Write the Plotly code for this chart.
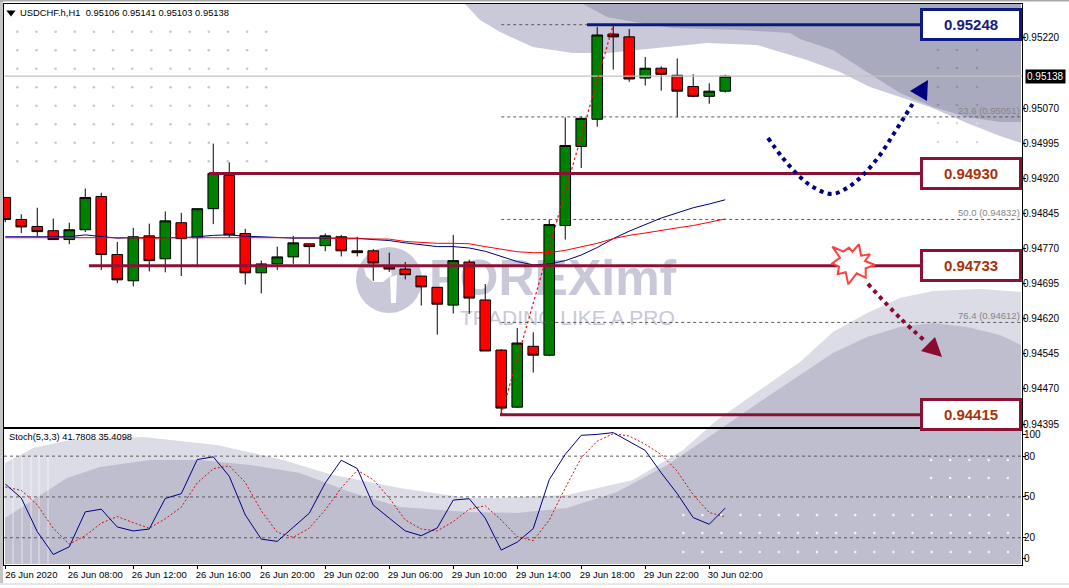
import plotly.graph_objects as go

W, H = 1069, 588
# ---------- data ----------
opens = [.94879,.94832,.94817,.94808,.94789,.94810,.94881,.94757,.94701,.94797,.94748,.94825,.94793,.94855,.94926,.94802,.94718,.94737,.94752,.94780,.94776,.94795,.94765,.94765,.94733,.94726,.94711,.94687,.94649,.94741,.94660,.94553,.94431,.94561,.94542,.94819,.94988,.95046,.95228,.95222,.95134,.95155,.95140,.95116,.95095,.95106]
highs = [.94880,.94843,.94857,.94834,.94825,.94898,.94889,.94784,.94814,.94823,.94849,.94846,.94855,.94994,.94954,.94812,.94744,.94774,.94797,.94780,.94802,.94799,.94795,.94769,.94761,.94741,.94711,.94687,.94799,.94746,.94694,.94555,.94600,.94591,.94832,.95050,.95052,.95243,.95248,.95239,.95179,.95159,.95176,.95142,.95123,.95141]
lows = [.94826,.94803,.94796,.94789,.94779,.94805,.94724,.94696,.94689,.94721,.94719,.94711,.94730,.94822,.94793,.94693,.94674,.94724,.94737,.94737,.94764,.94753,.94753,.94701,.94720,.94704,.94648,.94586,.94631,.94630,.94551,.94416,.94429,.94505,.94540,.94789,.94942,.95030,.95152,.95126,.95118,.95107,.95050,.95093,.95079,.95103]
closes = [.94832,.94816,.94806,.94789,.94810,.94879,.94757,.94703,.94795,.94744,.94829,.94791,.94855,.94930,.94799,.94718,.94737,.94752,.94782,.94774,.94797,.94765,.94761,.94739,.94726,.94714,.94688,.94651,.94744,.94664,.94551,.94429,.94568,.94542,.94821,.94990,.95048,.95226,.95222,.95132,.95155,.95142,.95106,.95095,.95106,.95138]

ma_fast = [.94795,.94795,.94795,.94795,.94795,.94799,.94796,.94792,.94793,.94793,.94793,.94793,.94795,.94798,.94799,.94796,.94795,.94793,.94792,.94792,.94792,.94792,.94792,.94789,.94787,.94782,.94778,.94774,.94774,.94771,.94764,.94753,.94742,.94735,.94737,.94744,.94756,.94772,.94791,.94807,.94821,.94835,.94846,.94857,.94865,.94874]
ma_slow = [.94793,.94793,.94793,.94792,.94792,.94793,.94793,.94793,.94793,.94791,.94793,.94793,.94793,.94793,.94794,.94793,.94793,.94793,.94793,.94793,.94793,.94791,.94791,.94791,.94790,.94785,.94783,.94781,.94781,.94780,.94774,.94768,.94763,.94761,.94761,.94766,.94773,.94781,.94791,.94798,.94803,.94809,.94814,.94819,.94826,.94833]

stoch_main = [59.5,49.2,24.5,7.7,13.3,39,41,27.9,25,26.4,48.9,52.4,77.5,79.5,65.2,36.8,19,17.3,27.7,38,60.3,77,70.9,44,34.4,25,21.5,27.2,47.7,48.7,34.4,10.9,16.8,26.7,62.7,81.3,95.3,96,97.3,90.9,84.2,67.7,52.4,34.8,29.9,41.78]
stoch_signal = [57.3,54.8,44.2,26.9,15.3,21.5,30.7,35.6,31.1,27,33.9,42.5,60.3,70.7,72.9,60.7,39.8,24,20.3,27,40.5,56.6,69.6,62.7,49.2,33.1,26.4,25,31.9,41,43.5,33,20.8,17.8,33,56.6,78.8,91,96.5,94.8,88.7,81.2,68.9,51.6,38.5,35.41]
stoch_levels = [20, 50, 80]

price_ticks = [.95220,.95070,.94995,.94920,.94845,.94770,.94695,.94620,.94545,.94470,.94395]
time_tick_idx = [0,4,8,12,16,20,24,28,32,36,40,44]
time_tick_txt = ["26 Jun 2020","26 Jun 08:00","26 Jun 12:00","26 Jun 16:00","26 Jun 20:00","29 Jun 02:00","29 Jun 06:00","29 Jun 10:00","29 Jun 14:00","29 Jun 18:00","29 Jun 22:00","30 Jun 02:00"]

fib_prices = [.95248,.95051,.94832,.94612]
fib_labels = ["", "23.6 (0.95051)", "50.0 (0.94832)", "76.4 (0.94612)"]
levels_red = [(.94930,12.73),(.94733,5.23),(.94415,30.92)]
level_blue = (.95248,36.36)
box_labels = [("0.95248",.95248,"#0b1a80","#1a1a80"),("0.94930",.94930,"#8b1235","#a8320a"),
              ("0.94733",.94733,"#8b1235","#a8320a"),("0.94415",.94415,"#8b1235","#a8320a")]
last_price = .95138
swing_low, swing_high = .94415, .95248
swing_low_idx, swing_high_idx = 31, 38

# ---------- decoration outlines (window pixels) ----------
top_light = [(465,4),(480,20),(500,32),(533,47),(573,53),(607,53),(657,48),(707,43),(757,45),(807,60),(840,72),(870,87),(900,97),(930,107),(967,123),(1000,136),(1021,143),(1021,4)]
top_dark = [(583,4),(607,17),(640,23),(673,28),(740,30),(790,33),(800,39),(833,50),(867,72),(900,93),(933,107),(967,117),(1000,122),(1021,122),(1021,4)]
bot_light = [(5,463),(33,448),(70,440),(143,437),(217,445),(283,460),(333,475),(400,488),(467,498),(500,498),(567,495),(633,480),(683,450),(717,420),(767,385),(800,362),(833,332),(867,313),(900,298),(933,291),(980,289),(1021,292),(1021,564),(5,564)]
bot_dark = [(5,518),(33,500),(67,478),(100,467),(150,460),(200,460),(250,465),(300,473),(350,492),(400,507),(467,512),(517,513),(567,508),(617,492),(667,465),(700,443),(733,420),(767,397),(800,375),(833,353),(867,337),(900,327),(933,323),(967,327),(1000,335),(1021,345),(1021,564),(5,564)]
star = [(832.3,246.7),(843.3,251.7),(849,247.7),(852.3,251.7),(859,244.3),(861,255.7),(870,254.3),(865,261),(875,265),(865.7,268.3),(865.7,277.7),(856.7,273.3),(848.3,284.3),(845.7,272.3),(837.7,274.3),(839,266.7),(832.3,263.3),(840,257.7),(832.3,246.7)]
blue_curve = [(768,138),(782,157),(798,175),(813,187),(832,194),(850,186),(865,173),(880,155),(893,135),(905,116),(915,100)]
blue_head = [(928,80),(910,91),(927,101)]
red_curve = [(868,284),(900,318),(925,341)]
red_head = [(935,337),(921,351),(942,357)]
logo_cut_a = [(364,268),(390,267),(392,275),(383,282),(373,282),(366,276)]
logo_cut_b = [(390,277),(397,275),(396,303),(391,303)]

fig = go.Figure()

def poly(pts, color, axes="", line=None):
    fig.add_trace(go.Scatter(x=[p[0] for p in pts], y=[p[1] for p in pts], mode="lines", fill="toself",
                             fillcolor=color, line=line or dict(width=0), hoverinfo="skip", showlegend=False,
                             xaxis="x"+axes, yaxis="y"+axes))

# base layer, under everything
poly(top_light, "#c9c9d9")
poly(top_dark, "#aaaabf")
poly(bot_light, "#dcdce6")
poly(bot_dark, "#bebecf")

for sx in [13, 22, 31, 39, 48]:
    fig.add_trace(go.Scatter(x=[sx, sx], y=[455, 564], mode="lines", line=dict(color="rgba(255,255,255,0.4)", width=1.5),
                             hoverinfo="skip", showlegend=False))

def dots(xs, ys, color):
    fig.add_trace(go.Scatter(x=[x for y in ys for x in xs], y=[y for y in ys for x in xs], mode="markers",
                             marker=dict(size=2.6, color=color), hoverinfo="skip", showlegend=False))
dots([17.3 + 19.15 * k for k in range(14)], [31.7 + 18.5 * k for k in range(8)], "#c6c6d6")
dots([938, 957, 977], [50, 68, 87, 105], "#8f8fa6")
dots([938, 957, 977], [123, 142], "#d8d8d8")
dots([683.3 + 19.1 * k for k in range(18)], [515, 533, 552], "#f4f4f8")
dots([931 + 19.2 * k for k in range(5)], [460, 478, 497], "#f4f4f8")

# watermark
fig.add_trace(go.Scatter(x=[389], y=[280], mode="markers", marker=dict(size=66, color="#c8c8d8"), hoverinfo="skip", showlegend=False))
poly(logo_cut_a, "#ffffff")
poly(logo_cut_b, "#ffffff")
fig.add_trace(go.Scatter(x=[429, 460], y=[283, 320], mode="text", text=["FOREXimf", "TRADING LIKE A PRO"],
                         textposition="middle right", hoverinfo="skip", showlegend=False,
                         textfont=dict(family=["Liberation Sans", "Liberation Sans"], size=[50, 21],
                                       weight=["bold", "normal"], color="#c8c8d8")))

# main panel
idx = list(range(len(opens)))
fig.add_trace(go.Candlestick(x=idx, open=opens, high=highs, low=lows, close=closes, xaxis="x2", yaxis="y2",
                             whiskerwidth=0, showlegend=False,
                             increasing=dict(fillcolor="#008000", line=dict(color="#000000", width=1)),
                             decreasing=dict(fillcolor="#ff0000", line=dict(color="#000000", width=1))))
XMAX = 63.55
def main_line(xs, ys, color, width, dash="solid"):
    fig.add_trace(go.Scatter(x=xs, y=ys, mode="lines", line=dict(color=color, width=width, dash=dash),
                             hoverinfo="skip", showlegend=False, xaxis="x2", yaxis="y2"))
main_line([-0.08, XMAX], [last_price, last_price], "#c2c2c2", 1.2)
for p in fib_prices:
    main_line([swing_low_idx, XMAX], [p, p], "#5a5a5a", 1, "3px,3px")
main_line(idx, ma_fast, "#000080", 1)
main_line(idx, ma_slow, "#ff0000", 1)
main_line([swing_low_idx, swing_high_idx], [swing_low, swing_high], "#ff0000", 1.2, "2.5px,2.5px")
for p, x0 in levels_red:
    main_line([x0, 57.2], [p, p], "#8b1235", 3)
main_line([level_blue[1], 57.2], [level_blue[0], level_blue[0]], "#0b1a80", 3)

# stochastic panel
for lv in stoch_levels:
    fig.add_trace(go.Scatter(x=[-0.08, XMAX], y=[lv, lv], mode="lines", line=dict(color="#5a5a5a", width=1, dash="3px,3px"),
                             hoverinfo="skip", showlegend=False, xaxis="x3", yaxis="y3"))
fig.add_trace(go.Scatter(x=idx, y=stoch_signal, mode="lines", line=dict(color="#d01010", width=1, dash="2px,2px"),
                         hoverinfo="skip", showlegend=False, xaxis="x3", yaxis="y3"))
fig.add_trace(go.Scatter(x=idx, y=stoch_main, mode="lines", line=dict(color="#000080", width=1),
                         hoverinfo="skip", showlegend=False, xaxis="x3", yaxis="y3"))

# top overlay layer: arrows and burst
def curve(pts, color):
    fig.add_trace(go.Scatter(x=[p[0] for p in pts], y=[p[1] for p in pts], mode="lines",
                             line=dict(color=color, width=4, dash="4px,4.3px", shape="spline"),
                             hoverinfo="skip", showlegend=False, xaxis="x4", yaxis="y4"))
curve(blue_curve, "#000080")
poly(blue_head, "#000080", "4")
curve(red_curve, "#8b0a2f")
poly(red_head, "#8b0a2f", "4")
poly(star, "#ffffff", "4", dict(color="#ff4040", width=2))
fig.add_trace(go.Scatter(x=[11], y=[12.5], mode="markers", marker=dict(symbol="triangle-down", size=8, color="#000000"),
                         hoverinfo="skip", showlegend=False, xaxis="x4", yaxis="y4"))

# axes
YK = 1.005  # vertical calibration between layout pixels and the photographed page
px = lambda v: v / W
py = lambda v: 1 - v * YK / H
FONT = "Liberation Sans"
tf = dict(family=FONT, size=10, color="#000000")
tfx = dict(family=FONT, size=9.5, color="#000000")
hidden = dict(visible=False, domain=[0, 1], range=[0, W], fixedrange=True)
hiddeny = dict(visible=False, domain=[0, 1], range=[H / YK, 0], fixedrange=True)
PX_PER_PRICE = 46820.0
PMIN = .95248 - (427 - 24.7) / PX_PER_PRICE
PMAX = .95248 + (24.7 - 4) / PX_PER_PRICE
dom_x = [px(4), px(1022)]
fig.update_layout(
    width=W, height=H, margin=dict(l=0, r=0, t=0, b=0), paper_bgcolor="#ffffff", plot_bgcolor="rgba(0,0,0,0)",
    showlegend=False, boxgap=0.3, boxgroupgap=0.05, hovermode=False,
    xaxis=hidden, yaxis=hiddeny,
    xaxis4=dict(hidden), yaxis4=dict(hiddeny),
    xaxis2=dict(domain=dom_x, anchor="y2", range=[-0.08, XMAX], showticklabels=False, ticks="", showgrid=False,
                zeroline=False, showline=True, mirror=True, linecolor="#000000", linewidth=1,
                rangeslider=dict(visible=False), fixedrange=True),
    yaxis2=dict(domain=[py(427), py(4)], anchor="x2", side="right", range=[PMIN, PMAX], tickvals=price_ticks,
                tickformat=".5f", ticks="outside", ticklen=3, tickcolor="#000000", tickfont=tf, ticklabelstandoff=-5, showgrid=False,
                zeroline=False, showline=True, mirror=True, linecolor="#000000", linewidth=1, fixedrange=True),
    xaxis3=dict(domain=dom_x, anchor="y3", range=[-0.08, XMAX], tickvals=time_tick_idx, ticktext=time_tick_txt,
                ticks="outside", ticklen=3, tickcolor="#000000", tickangle=0, tickfont=tfx, ticklabelshift=26, ticklabelstandoff=-2, showgrid=False,
                zeroline=False, showline=True, mirror=True, linecolor="#000000", linewidth=1, fixedrange=True),
    yaxis3=dict(domain=[py(565), py(429)], anchor="x3", side="right", range=[0, 100], tickvals=[96, 80, 50, 20, 4.6],
                ticktext=["100", "80", "50", "20", "0"], ticks="outside", ticklen=3, tickcolor="#000000", tickfont=tf, ticklabelstandoff=-4,
                showgrid=False, zeroline=False, showline=True, mirror=True, linecolor="#000000", linewidth=1, fixedrange=True),
)

ann = []
def paper_text(x, y, text, size=10, color="#000000", anchor="left"):
    ann.append(dict(x=px(x), y=py(y), xref="paper", yref="paper", text=text, showarrow=False, xanchor=anchor, yanchor="middle",
                    font=dict(family=FONT, size=size, color=color), align="left"))
paper_text(18, 12.5, "USDCHF.h,H1  0.95106 0.95141 0.95103 0.95138", 9.4)
paper_text(7, 437, "Stoch(5,3,3) 41.7808 35.4098", 9.3)
for p, t in zip(fib_prices, fib_labels):
    if t:
        ann.append(dict(x=px(1022), xref="paper", y=p, yref="y2", yshift=6.5, text=t, showarrow=False, xanchor="right", yanchor="middle",
                        font=dict(family=FONT, size=9.5, color="#858585")))
for t, p, edge_c, col in box_labels:
    ann.append(dict(x=px(971), xref="paper", y=p, yref="y2", text="<b>%s</b>" % t, showarrow=False, xanchor="center", yanchor="middle",
                    width=96, height=27, bgcolor="#ffffff", bordercolor=edge_c, borderwidth=3, borderpad=0,
                    font=dict(family=FONT, size=15, color=col)))
ann.append(dict(x=px(1024.5), xref="paper", y=last_price, yref="y2", text="0.95138", showarrow=False, xanchor="left", yanchor="middle",
                bgcolor="#000000", borderpad=1, font=dict(family=FONT, size=10, color="#ffffff")))
fig.update_layout(annotations=ann)

# window edge
def edge(x0, y0, x1, y1, c):
    return dict(type="rect", xref="paper", yref="paper", x0=px(x0), x1=px(x1), y0=py(y0), y1=max(py(y1), 0), fillcolor=c, line=dict(width=0), layer="above")
fig.update_layout(shapes=[edge(0, 0, 3, H, "#c4c4c4"), edge(0, 0, W, 1.6, "#a8a8a8"), edge(0, 583, W, H, "#e8e8e8")])

fig.write_html("out.html", config=dict(displayModeBar=False),
               post_script="document.documentElement.style.overflow='hidden';document.body.style.margin='0';document.body.style.overflow='hidden';document.body.style.height='588px';")
